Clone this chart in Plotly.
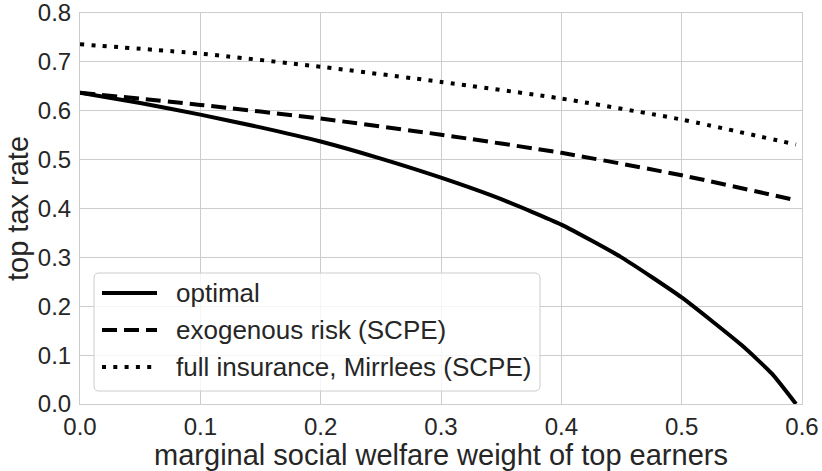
import plotly.graph_objects as go

# ---- data ----
x_opt = [0.0, 0.05, 0.1, 0.15, 0.2, 0.25, 0.3, 0.35, 0.4, 0.45, 0.5, 0.55, 0.575, 0.595]
y_opt = [0.637, 0.616, 0.592, 0.566, 0.537, 0.502, 0.463, 0.419, 0.367, 0.300, 0.218, 0.120, 0.062, 0.0]

x_exo = [0.0, 0.1, 0.2, 0.3, 0.4, 0.5, 0.595]
y_exo = [0.637, 0.612, 0.584, 0.551, 0.514, 0.468, 0.417]

x_full = [0.0, 0.1, 0.2, 0.3, 0.4, 0.5, 0.595]
y_full = [0.736, 0.717, 0.690, 0.659, 0.625, 0.582, 0.531]

names = ["optimal", "exogenous risk (SCPE)", "full insurance, Mirrlees (SCPE)"]
dashes = ["solid", "15px,7px", "4px,7.3px"]

x_ticks = [0.0, 0.1, 0.2, 0.3, 0.4, 0.5, 0.6]
y_ticks = [0.0, 0.1, 0.2, 0.3, 0.4, 0.5, 0.6, 0.7, 0.8]

FONT = "Liberation Sans, Arial, sans-serif"
TXT = "#262626"
GRID = "#cccccc"

fig = go.Figure()
for xs, ys, nm, ds in zip([x_opt, x_exo, x_full], [y_opt, y_exo, y_full], names, dashes):
    fig.add_trace(go.Scatter(x=xs, y=ys, mode="lines", name=nm, showlegend=False,
                             line=dict(color="black", width=4, dash=ds, shape="spline", smoothing=0.5)))

# ---- legend box drawn like the reference (paper coordinates; plot area 80..802 x 13..404 px) ----
W, H = 722.0, 391.0
def px(xp):
    return (xp - 80) / W
def py(yp):
    return (404 - yp) / H

L, R, T, B, r = 94, 540, 273, 391, 5
path = (f"M {px(L + r)},{py(T)} L {px(R - r)},{py(T)} Q {px(R)},{py(T)} {px(R)},{py(T + r)} "
        f"L {px(R)},{py(B - r)} Q {px(R)},{py(B)} {px(R - r)},{py(B)} "
        f"L {px(L + r)},{py(B)} Q {px(L)},{py(B)} {px(L)},{py(B - r)} "
        f"L {px(L)},{py(T + r)} Q {px(L)},{py(T)} {px(L + r)},{py(T)} Z")
fig.add_shape(type="path", xref="paper", yref="paper", path=path,
              line=dict(color=GRID, width=1), fillcolor="rgba(255,255,255,0.8)", layer="above")
rows = [293, 330, 367]
for nm, ds, yr in zip(names, dashes, rows):
    fig.add_shape(type="line", xref="paper", yref="paper",
                  x0=px(102), x1=px(157), y0=py(yr), y1=py(yr),
                  line=dict(color="black", width=4, dash=ds), layer="above")
    fig.add_annotation(xref="paper", yref="paper", x=px(174), y=py(yr), text=nm,
                       showarrow=False, xanchor="left", yanchor="middle",
                       font=dict(family=FONT, size=26, color=TXT))

fig.update_layout(
    template="none",
    width=822, height=471,
    margin=dict(l=80, r=20, t=13, b=67),
    paper_bgcolor="white", plot_bgcolor="white",
    font=dict(family=FONT, color=TXT),
    showlegend=False,
)
fig.update_xaxes(range=[0, 0.6], tickvals=x_ticks, ticktext=[f"{v:.1f}" for v in x_ticks],
                 showgrid=True, gridcolor=GRID, gridwidth=1, automargin=False,
                 showline=True, linecolor=GRID, linewidth=1, mirror=True,
                 zeroline=False, ticks="", ticklabelstandoff=1, ticklabeloverflow="allow",
                 tickfont=dict(size=24, family=FONT, color=TXT),
                 title=dict(text="marginal social welfare weight of top earners",
                            font=dict(size=29, family=FONT, color=TXT), standoff=0))
fig.update_yaxes(range=[0, 0.8], tickvals=y_ticks, ticktext=[f"{v:.1f}" for v in y_ticks],
                 showgrid=True, gridcolor=GRID, gridwidth=1, automargin=False,
                 showline=True, linecolor=GRID, linewidth=1, mirror=True,
                 zeroline=False, ticks="", ticklabelstandoff=3, ticklabeloverflow="allow",
                 tickfont=dict(size=24, family=FONT, color=TXT),
                 title=dict(text="top tax rate",
                            font=dict(size=29, family=FONT, color=TXT), standoff=0))

fig.write_html("out.html", config={"displayModeBar": False},
               post_script="document.body.style.margin='0';")
